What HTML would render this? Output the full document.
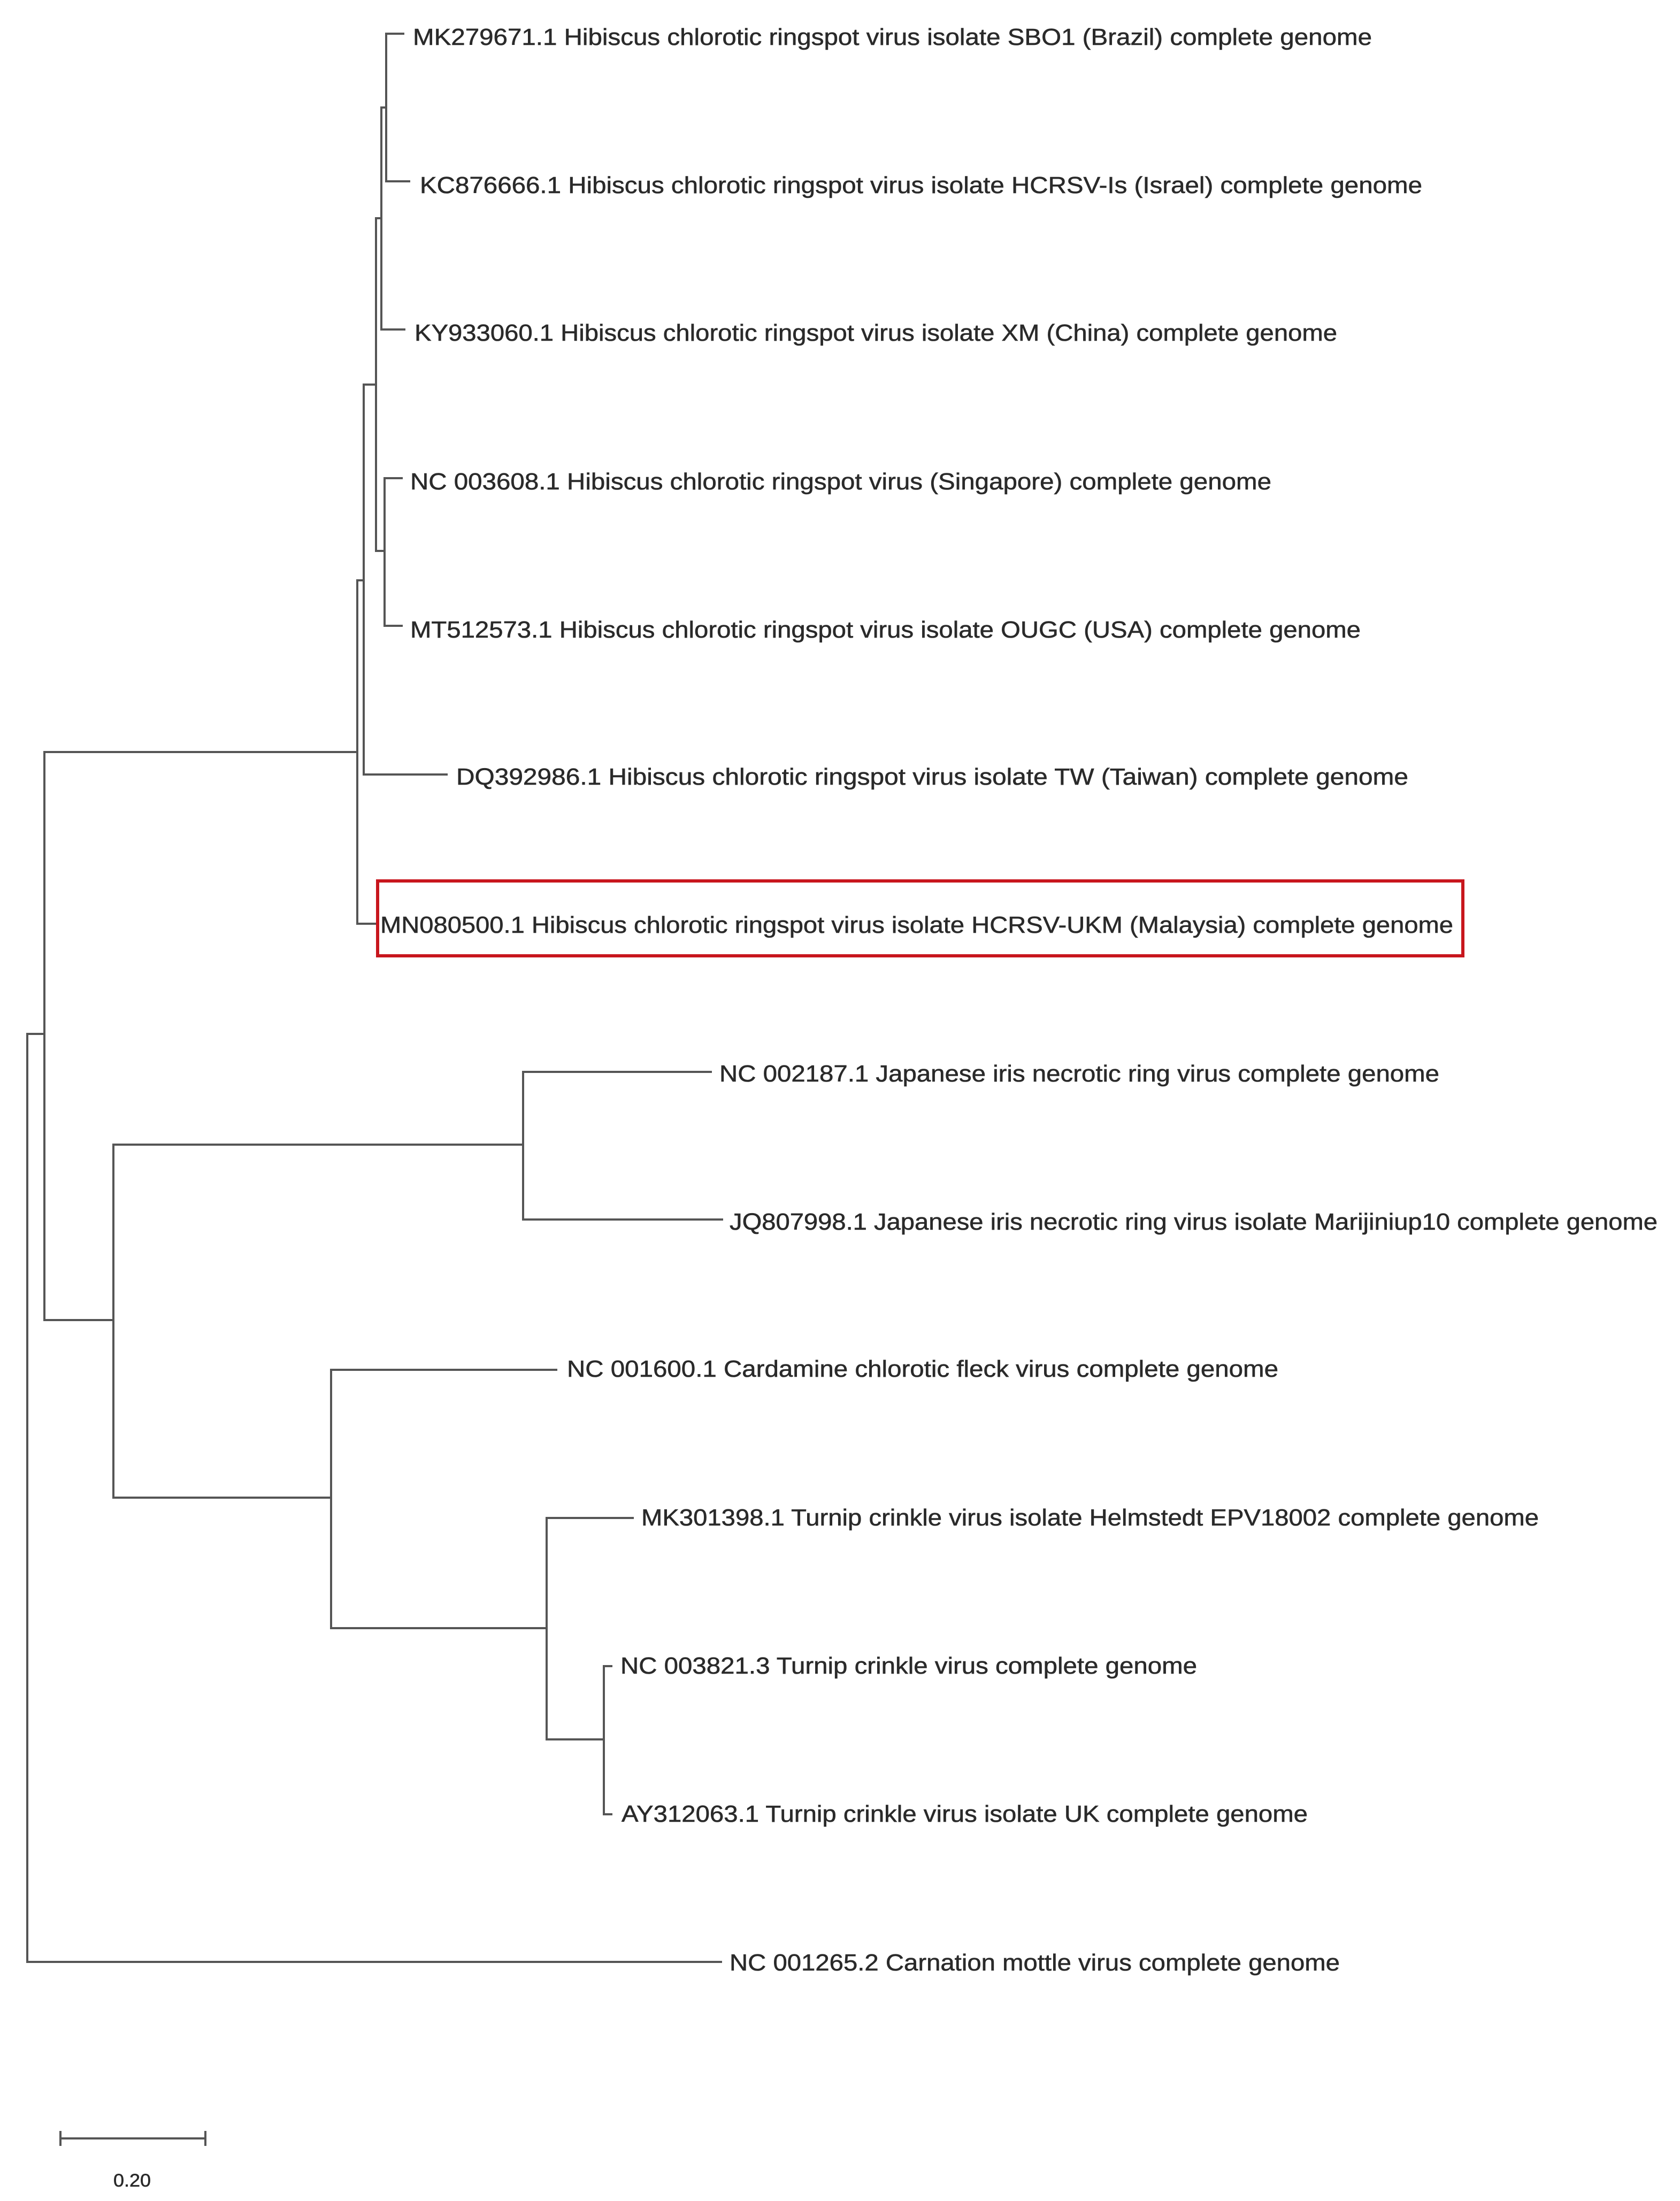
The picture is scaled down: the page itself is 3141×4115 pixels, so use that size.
<!DOCTYPE html>
<html><head><meta charset="utf-8"><style>html,body{margin:0;padding:0;background:#fff}svg{display:block}</style></head>
<body>
<svg width="3141" height="4115" viewBox="0 0 3141 4115" xmlns="http://www.w3.org/2000/svg">
<g stroke="#555" stroke-width="4" fill="none" stroke-linecap="square">
<path d="M722 63V339M722 63H754M722 339H765"/>
<path d="M713 201V616M713 201H722M713 616H756"/>
<path d="M719 894V1170M719 894H751M719 1170H751"/>
<path d="M703 408V1030M703 408H713M703 1030H719"/>
<path d="M680 719V1448M680 719H703M680 1448H835"/>
<path d="M668 1085V1727M668 1085H680M668 1727H701"/>
<path d="M83 1406H668M83 1406V2468"/>
<path d="M51 1933V3668M51 1933H83M51 3668H1348"/>
<path d="M83 2468H212M212 2140V2800"/>
<path d="M212 2140H978M978 2004V2280M978 2004H1329M978 2280H1350"/>
<path d="M212 2800H619M619 2561V3044M619 2561H1040"/>
<path d="M619 3044H1022M1022 2838V3252M1022 2838H1183"/>
<path d="M1022 3252H1129M1129 3115V3392M1129 3115H1143M1129 3392H1143"/>
<path d="M113 3998H384M113 3986V4010M384 3986V4010"/>
</g>
<rect x="706" y="1647" width="2029" height="140" fill="none" stroke="#c8161d" stroke-width="6"/>
<g font-family="Liberation Sans, sans-serif" font-size="44" fill="#2a2a2a" stroke="#2a2a2a" stroke-width="0.6">
<text x="772" y="84" textLength="1793" lengthAdjust="spacingAndGlyphs">MK279671.1 Hibiscus chlorotic ringspot virus isolate SBO1 (Brazil) complete genome</text>
<text x="785" y="361" textLength="1874" lengthAdjust="spacingAndGlyphs">KC876666.1 Hibiscus chlorotic ringspot virus isolate HCRSV-Is (Israel) complete genome</text>
<text x="775" y="637" textLength="1725" lengthAdjust="spacingAndGlyphs">KY933060.1 Hibiscus chlorotic ringspot virus isolate XM (China) complete genome</text>
<text x="767" y="915" textLength="1610" lengthAdjust="spacingAndGlyphs">NC 003608.1 Hibiscus chlorotic ringspot virus (Singapore) complete genome</text>
<text x="767" y="1192" textLength="1777" lengthAdjust="spacingAndGlyphs">MT512573.1 Hibiscus chlorotic ringspot virus isolate OUGC (USA) complete genome</text>
<text x="853" y="1467" textLength="1780" lengthAdjust="spacingAndGlyphs">DQ392986.1 Hibiscus chlorotic ringspot virus isolate TW (Taiwan) complete genome</text>
<text x="711" y="1744" textLength="2006" lengthAdjust="spacingAndGlyphs">MN080500.1 Hibiscus chlorotic ringspot virus isolate HCRSV-UKM (Malaysia) complete genome</text>
<text x="1345" y="2022" textLength="1346" lengthAdjust="spacingAndGlyphs">NC 002187.1 Japanese iris necrotic ring virus complete genome</text>
<text x="1364" y="2299" textLength="1735" lengthAdjust="spacingAndGlyphs">JQ807998.1 Japanese iris necrotic ring virus isolate Marijiniup10 complete genome</text>
<text x="1060" y="2574" textLength="1330" lengthAdjust="spacingAndGlyphs">NC 001600.1 Cardamine chlorotic fleck virus complete genome</text>
<text x="1199" y="2852" textLength="1678" lengthAdjust="spacingAndGlyphs">MK301398.1 Turnip crinkle virus isolate Helmstedt EPV18002 complete genome</text>
<text x="1160" y="3129" textLength="1078" lengthAdjust="spacingAndGlyphs">NC 003821.3 Turnip crinkle virus complete genome</text>
<text x="1162" y="3406" textLength="1283" lengthAdjust="spacingAndGlyphs">AY312063.1 Turnip crinkle virus isolate UK complete genome</text>
<text x="1364" y="3684" textLength="1141" lengthAdjust="spacingAndGlyphs">NC 001265.2 Carnation mottle virus complete genome</text>
<text x="212" y="4088" font-size="34" textLength="70" lengthAdjust="spacingAndGlyphs">0.20</text>
</g>
</svg>
</body></html>
